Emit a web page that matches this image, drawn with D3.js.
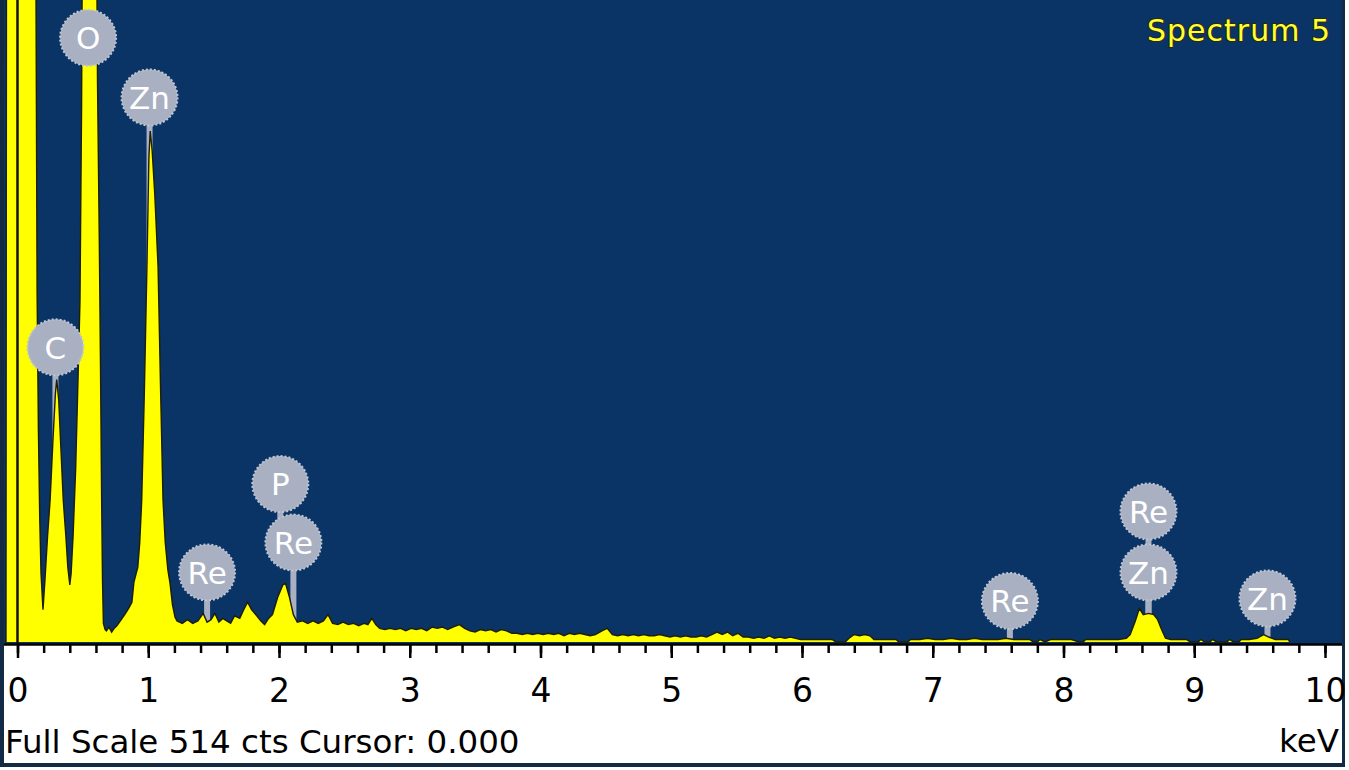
<!DOCTYPE html>
<html><head><meta charset="utf-8">
<script src="https://cdn.jsdelivr.net/npm/d3@7"></script>
<style>html,body{margin:0;padding:0;background:#fff;} svg{display:block;}</style>
</head><body>
<svg id="chart" width="1349" height="770"></svg>
<script>
// ---- data ----
const energy = [
 -0.095,-0.088,-0.082,0.13,0.14,0.15,0.16,0.17,0.18,0.195,
 0.21,0.23,0.25,0.27,0.29,0.30,0.315,0.33,0.35,0.37,0.385,0.40,
 0.41,0.425,0.445,0.465,0.478,0.49,0.50,0.545,0.60,0.612,0.625,0.635,0.643,0.65,0.657,
 0.67,0.68,0.70,0.72,0.74,0.76,0.78,0.80,
 0.82,0.85,0.875,0.89,0.905,0.92,0.935,0.95,0.97,0.99,1.005,1.015,1.03,1.05,1.075,1.095,1.113,1.13,1.15,1.167,1.185,1.205,
 1.22,1.26,1.30,1.34,1.38,1.42,1.45,1.48,1.51,1.54,1.57,1.60,1.63,1.66,1.70,1.73,1.76,1.79,1.83,1.86,1.89,1.92,1.95,1.99,
 2.03,2.05,2.08,2.11,2.14,2.18,2.22,2.26,2.30,2.34,2.375,2.41,2.45,2.49,2.53,2.57,2.61,2.65,2.68,2.71,2.74,2.77,2.81,2.85,2.89,
 2.93,2.97,3.01,3.05,3.09,3.13,3.17,3.21,3.25,3.29,3.33,3.38,3.42,3.46,3.50,3.54,3.58,3.62,3.66,3.70,3.74,3.78,3.82,3.86,3.90,
 3.94,3.98,4.02,4.06,4.10,4.14,4.18,4.22,4.26,4.30,4.34,4.38,4.42,4.47,4.51,4.55,4.59,4.63,4.67,4.71,4.75,4.79,4.83,4.87,4.91,
 4.95,4.99,5.03,5.07,5.11,5.15,5.19,5.23,5.27,5.31,5.35,5.39,5.43,5.47,5.51,5.55,5.59,5.63,5.67,5.71,5.75,5.79,5.83,5.87,5.91,
 5.95,5.99,6.05,6.11,6.17,6.23,6.26,6.33,6.36,6.40,6.44,6.48,6.52,6.55,6.60,6.66,6.72,6.74,6.81,6.83,6.90,6.96,7.02,7.08,7.14,
 7.20,7.26,7.32,7.38,7.44,7.50,7.56,7.62,7.68,7.74,7.77,7.80,7.82,7.86,7.90,7.95,8.00,8.06,8.12,8.15,8.17,8.24,8.30,8.36,8.42,
 8.48,8.51,8.55,8.58,8.61,8.65,8.69,8.72,8.75,8.78,8.82,8.88,8.94,8.97,9.03,9.05,9.08,9.12,9.14,9.17,9.25,9.27,9.30,9.34,9.36,
 9.42,9.48,9.53,9.57,9.62,9.68,9.72,9.73
];
const counts = [
 0,0,900,900,560,280,170,100,55,26,
 50,85,115,160,200,211,195,160,114,85,60,46,
 55,85,140,220,275,430,650,900,650,450,330,220,120,50,15,
 10,9,12,8,11,13,16,19,
 22,27,32,48,54,60,80,114,200,302,390,411,395,360,302,200,114,80,58,47,30,20,
 17,15,18,15,17,23,16,18,23,16,19,17,15,21,19,26,32,26,21,17,14,19,22,36,
 46,47,36,22,16,17,15,17,15,17,22,15,14,16,14,15,13,15,14,19,14,11,10,11,10,
 11,9,11,10,11,9,12,11,12,10,12,14,11,9,8,10,9,10,8,10,9,7,7,6,7,
 6,7,6,7,6,7,5,7,6,7,6,5,6,9,11,6,5,6,5,6,5,6,5,5,6,
 5,4,5,4,5,4,4,5,4,6,8,6,8,5,7,4,4,3,4,3,5,3,4,3,4,
 3,2,2,2,2,2,0,0,3,6,5,6,5,2,2,2,2,0,0,2,2,3,2,2,3,
 2,2,3,2,2,2,3,2,2,2,0,0,2,0,2,2,2,2,0,0,2,2,2,2,2,
 3,6,17,27,22,23,22,18,10,3,2,2,2,0,0,2,0,0,2,0,0,2,0,0,2,
 2,3,6,4,2,2,2,0
];
const majorTicks = [0,1,2,3,4,5,6,7,8,9,10];
const labelNames  = ["O","Zn","C","P","Re","Re","Re","Zn","Re","Zn"];
const labelEnergy = [0.54,1.01,0.29,2.01,2.11,1.45,7.59,8.65,8.65,9.56];
const labelCounts = [486,438,237,127,80,56,33,56,105,35];
const stemEnd     = [0,0,0,80,0,0,0,0,0,0];
const fullScale = 514;
const cursorValue = 0.000;
const titleText = "Spectrum 5";
const footerText = "Full Scale " + fullScale + " cts Cursor: " + cursorValue.toFixed(3);
const unitText = "keV";

// ---- drawing ----
const svg = d3.select("#chart");
const plotL = 4, plotR = 1342, plotT = 0, axisY = 644;
const x = d3.scaleLinear().domain([0, 10]).range([17.5, 1325]);
const y = d3.scaleLinear().domain([0, fullScale]).range([642, 3]);

// frame
svg.append("rect").attr("x",0).attr("y",0).attr("width",1345).attr("height",767).attr("fill","#132a45");
svg.append("rect").attr("x",plotL).attr("y",plotT).attr("width",plotR-plotL).attr("height",axisY-plotT).attr("fill","#0a3466");
svg.append("rect").attr("x",plotL).attr("y",axisY).attr("width",plotR-plotL).attr("height",763-axisY).attr("fill","#ffffff");

svg.append("clipPath").attr("id","plotclip").append("rect")
  .attr("x",plotL).attr("y",plotT).attr("width",plotR-plotL).attr("height",axisY-plotT);

const g = svg.append("g").attr("clip-path","url(#plotclip)");

const pts = energy.map((e,i)=>[e, counts[i]]);

// stems (behind spectrum)
g.selectAll("line.stem").data(labelNames).join("line").attr("class","stem")
  .attr("x1",(d,i)=>x(labelEnergy[i])).attr("x2",(d,i)=>x(labelEnergy[i]))
  .attr("y1",(d,i)=>y(labelCounts[i])).attr("y2",(d,i)=>y(stemEnd[i]))
  .attr("stroke","#a9b0c2").attr("stroke-width",6);

// spectrum
const area = d3.area().x(d=>x(d[0])).y0(y(0)).y1(d=>y(d[1]));
const line = d3.line().x(d=>x(d[0])).y(d=>y(d[1]));
g.append("path").datum(pts).attr("d",area).attr("fill","#ffff00");
g.append("path").datum(pts).attr("d",line).attr("fill","none").attr("stroke","#1e1e05").attr("stroke-width",1.4);

// cursor
g.append("line").attr("x1",x(cursorValue)).attr("x2",x(cursorValue)).attr("y1",plotT).attr("y2",axisY)
  .attr("stroke","#111").attr("stroke-width",2.5);

// label circles
const lab = g.selectAll("g.lab").data(labelNames).join("g").attr("class","lab")
  .attr("transform",(d,i)=>`translate(${x(labelEnergy[i])},${y(labelCounts[i])})`);
lab.append("circle").attr("r",28).attr("fill","#a9b0c2")
  .attr("stroke","#bfc5d3").attr("stroke-width",2).attr("stroke-dasharray","2 2");
lab.append("text").text(d=>d).attr("text-anchor","middle").attr("dy","0.36em")
  .attr("fill","#ffffff").attr("font-family","DejaVu Sans").attr("font-size",31);

// title
svg.append("text").attr("x",1331).attr("y",41).attr("text-anchor","end")
  .attr("font-family","DejaVu Sans").attr("font-size",30).attr("letter-spacing",1)
  .attr("fill","#ffff33").attr("stroke","#2a2a10").attr("stroke-width",2).attr("paint-order","stroke")
  .text(titleText);

// axis
svg.append("line").attr("x1",plotL).attr("x2",plotR).attr("y1",axisY+0.5).attr("y2",axisY+0.5)
  .attr("stroke","#000").attr("stroke-width",2.5);
const minorAx = d3.axisBottom(x).tickValues(d3.range(0, 10.001, 0.2)).tickSize(9).tickFormat("");
const majorAx = d3.axisBottom(x).tickValues(majorTicks).tickSize(14).tickFormat(d3.format("d"));
const gm = svg.append("g").attr("transform",`translate(0,${axisY})`).call(minorAx);
const gM = svg.append("g").attr("transform",`translate(0,${axisY})`).call(majorAx);
[gm,gM].forEach(a=>{ a.select(".domain").remove(); a.selectAll(".tick line").attr("stroke","#000").attr("stroke-width",2.5); });
gM.selectAll(".tick text").attr("y",58).attr("dy",null).attr("fill","#000")
  .attr("font-family","DejaVu Sans").attr("font-size",33);

svg.append("text").attr("x",5).attr("y",753).attr("font-family","DejaVu Sans").attr("font-size",32.5)
  .attr("fill","#000").text(footerText);
svg.append("text").attr("x",1339).attr("y",752).attr("text-anchor","end").attr("font-family","DejaVu Sans")
  .attr("font-size",32.5).attr("fill","#000").text(unitText);
</script>
</body></html>
